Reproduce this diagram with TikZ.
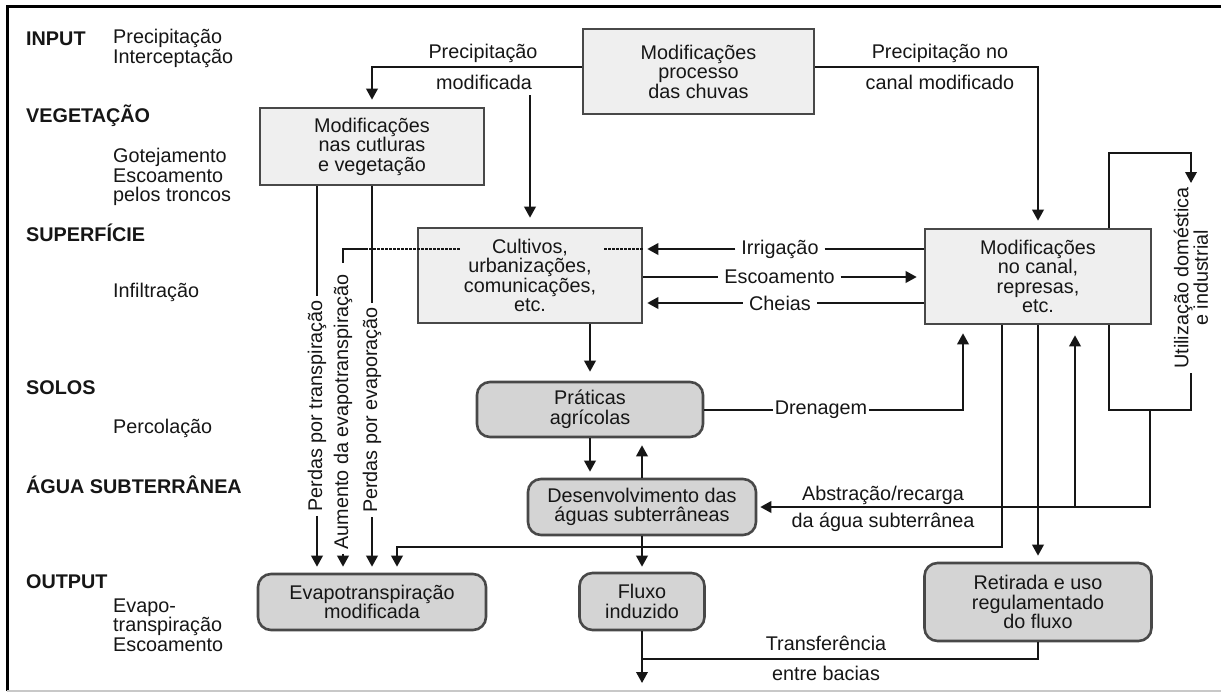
\documentclass[tikz,border=0pt]{standalone}
\usepackage{fontspec}
\setmainfont{Liberation Sans}
\usetikzlibrary{arrows.meta}

\definecolor{ink}{HTML}{161616}
\definecolor{edge}{HTML}{484848}
\definecolor{paleFill}{HTML}{EFEFEF}
\definecolor{midFill}{HTML}{D4D4D4}
\definecolor{rim}{HTML}{C8C8C8}

\begin{document}
\begin{tikzpicture}[x=1pt,y=-1pt,
  every node/.style={text=ink, font=\fontsize{19.8}{19.5}\selectfont},
  box/.style={draw=edge, fill=paleFill, line width=2.6pt, inner sep=0pt, align=center},
  rbox/.style={box, fill=midFill, rounded corners=13pt},
  conn/.style={draw=ink, line width=2pt},
  arr/.style={conn, -{Triangle[length=11pt,width=11.5pt]}, shorten >=7pt},
  dotln/.style={draw=ink, line width=1.4pt, dash pattern=on 2.5pt off 1.5pt},
  lbl/.style={inner xsep=6pt, inner ysep=0pt},
  side/.style={anchor=west, inner sep=0pt, align=left},
  head/.style={side, font=\fontsize{19.8}{19.5}\selectfont\bfseries},
  vlbl/.style={rotate=90, inner xsep=4pt, inner ysep=0pt, align=center}]

\useasboundingbox (0,0) rectangle (1221,693);
\fill[white] (0,0) rectangle (1221,693);

% frame
\draw[line width=3pt, draw=black] (7,691) -- (7,7) -- (1221,7);
\draw[line width=1.2pt, draw=rim] (7,691) -- (1221,691);

% side legend
\node[head] (hIn)  at (26,39)  {INPUT};
\node[side] (sIn)  at (113,48.5) {Precipitação\\Interceptação};
\node[head] (hVeg) at (26,116) {VEGETAÇÃO};
\node[side] (sVeg) at (113,177) {Gotejamento\\Escoamento\\pelos troncos};
\node[head] (hSup) at (26,233) {SUPERFÍCIE};
\node[side] (sSup) at (113,292) {Infiltração};
\node[head] (hSol) at (26,388) {SOLOS};
\node[side] (sSol) at (113,428) {Percolação};
\node[head] (hAg)  at (26,485) {ÁGUA SUBTERRÂNEA};
\node[head] (hOut) at (26,582) {OUTPUT};
\node[side] (sOut) at (113,625) {Evapo-\\transpiração\\Escoamento};

% boxes
\node[box, minimum width=231pt, minimum height=85pt] (chuvas) at (698.5,71.5) {Modificações\\processo\\das chuvas};
\node[box, minimum width=224pt, minimum height=77pt] (veg) at (372,146.5) {Modificações\\nas cutluras\\e vegetação};
\node[box, minimum width=224pt, minimum height=95pt] (cult) at (530,275.5) {Cultivos,\\urbanizações,\\comunicações,\\etc.};
\node[box, minimum width=226pt, minimum height=95pt] (canal) at (1038,276.5) {Modificações\\no canal,\\represas,\\etc.};
\node[rbox, minimum width=226pt, minimum height=55pt] (prat) at (590,409.5) {Práticas\\agrícolas};
\node[rbox, minimum width=228pt, minimum height=56pt] (desen) at (642,507) {Desenvolvimento das\\águas subterrâneas};
\node[rbox, minimum width=228pt, minimum height=56pt] (evapo) at (372,602) {Evapotranspiração\\modificada};
\node[rbox, minimum width=125pt, minimum height=57pt] (fluxo) at (642,601.5) {Fluxo\\induzido};
\node[rbox, minimum width=227pt, minimum height=78pt] (retir) at (1038,602) {Retirada e uso\\regulamentado\\do fluxo};

% rainfall branches
\node (pmA) at (483,53) {Precipitação};
\node (pmB) at (484,82) {modificada};
\node (pcA) at (940,53) {Precipitação no};
\node (pcB) at (940,82) {canal modificado};
\draw[arr] (chuvas.west |- 0,67) -| (veg.north);
\coordinate (pmDrop) at (530,95);
\draw[arr, shorten >=9pt] (pmDrop) -- (cult.north);
\draw[arr] (chuvas.east |- 0,67) -| (canal.north);

% exchanges between land use and channel
\node[lbl] (irr) at (780,249) {Irrigação};
\draw[arr, shorten >=4pt] (irr.west) -- (cult.east |- irr.west);
\draw[conn] (irr.east) -- (canal.west |- irr.east);
\node[lbl] (esc) at (779.5,277) {Escoamento};
\draw[conn] (cult.east |- esc.west) -- (esc.west);
\draw[arr] (esc.east) -- (canal.west |- esc.east);
\node[lbl] (chei) at (780,303) {Cheias};
\draw[arr, shorten >=4pt] (chei.west) -- (cult.east |- chei.west);
\draw[conn] (chei.east) -- (canal.west |- chei.east);

% dotted link through the land-use box
\coordinate (hkA) at (365,249);
\coordinate (hkB) at (343,263);
\coordinate (dotL) at (460,249);
\coordinate (dotR) at (604,249);
\draw[dotln] (hkA) -- (dotL);
\draw[dotln] (dotR) -- (cult.east |- dotR);
\draw[conn] (hkA) -| (hkB);

% losses to evapotranspiration
\node[vlbl] (lpt) at (317,406) {Perdas por transpiração};
\node[vlbl] (lpe) at (372,410) {Perdas por evaporação};
\node[vlbl] (lae) at (343,412) {Aumento da evapotranspiração};
\draw[conn] (veg.south -| lpt) -- (lpt.east);
\draw[arr, shorten >=6pt] (lpt.west) -- (evapo.north -| lpt.west);
\draw[conn] (veg.south -| lpe) -- (lpe.east);
\draw[arr, shorten >=6pt] (lpe.west) -- (evapo.north -| lpe.west);
\draw[arr, shorten >=6pt] (lae.west) -- (evapo.north -| lae.west);

% agricultural practices and groundwater
\draw[arr, shorten >=9pt] (cult.south -| prat.north) -- (prat.north);
\draw[arr, shorten >=6pt] (prat.south) -- (desen.north -| prat.south);
\draw[arr, shorten >=7pt] (desen.north) -- (prat.south -| desen.north);
\node[lbl, inner xsep=1.5pt] (dren) at (821,409.5) {Drenagem};
\draw[conn] (prat.east) -- (dren.west);
\draw[arr, shorten >=8pt] (dren.east) -| (canal.south -| 963,0);

% domestic and industrial use loop
\coordinate (uA) at (1109,153);
\coordinate (uTip) at (1191,183);
\coordinate (uB) at (1191,373);
\coordinate (uC) at (1109,410);
\coordinate (jb) at (1150,410);
\draw[arr, shorten >=0pt] (canal.north -| uA) -- (uA) -| (uTip);
\node[vlbl] (util) at (1191,278) {Utilização doméstica\\e industrial};
\draw[conn] (uB) |- (uC) -- (canal.south -| uC);

% groundwater abstraction / recharge
\draw[arr, shorten >=3pt] (jb) |- (desen.east);
\node (abA) at (883,495) {Abstração/recarga};
\node (abB) at (883,522) {da água subterrânea};
\coordinate (upR) at (1075,507);
\draw[arr, shorten >=10pt] (upR) -- (canal.south -| upR);

% channel outflows
\coordinate (cvA) at (1002,547);
\draw[arr, shorten >=6pt] (canal.south -| cvA) -- (cvA) -| (evapo.north -| 397,0);
\draw[arr, shorten >=6pt] (canal.south) -- (retir.north);

% induced flow and inter-basin transfer
\draw[arr, shorten >=5pt] (desen.south) -- (fluxo.north);
\coordinate (flxEnd) at (642,683);
\draw[arr, shorten >=0pt] (fluxo.south) -- (flxEnd);
\draw[conn] (retir.south) |- (fluxo.south |- 0,659);
\node (trA) at (826,643) {Transferência};
\node (trB) at (826,673) {entre bacias};

\end{tikzpicture}
\end{document}
